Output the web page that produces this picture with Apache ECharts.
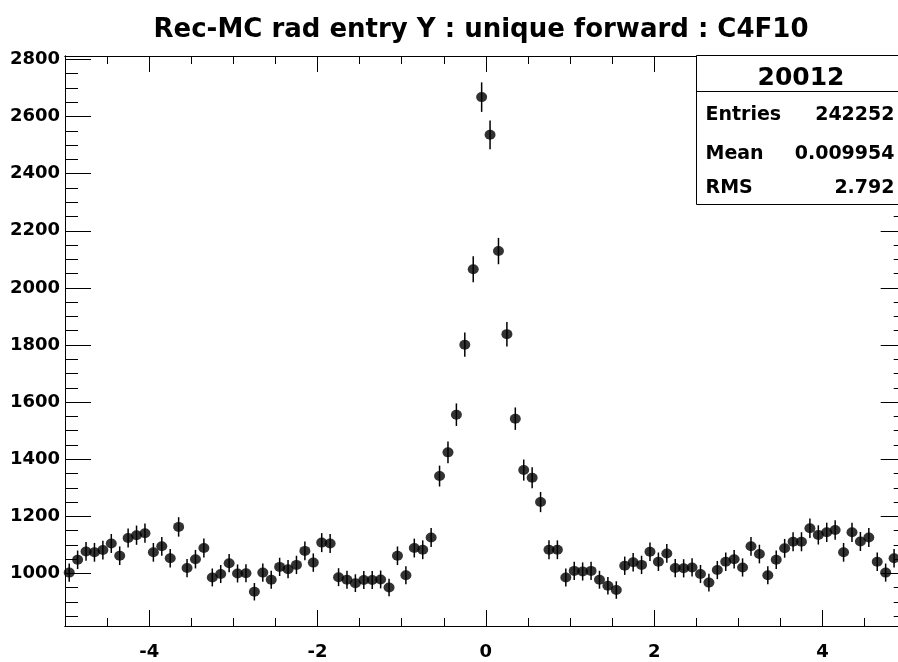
<!DOCTYPE html>
<html>
<head>
<meta charset="utf-8">
<script src="https://cdn.jsdelivr.net/npm/echarts@6/dist/echarts.min.js"></script>
<style>
html,body{margin:0;padding:0;background:#fff;}
#chart{width:898px;height:662px;}
</style>
</head>
<body>
<div id="chart"></div>
<script>
// ---- data ----
const titleText = 'Rec-MC rad entry Y : unique forward : C4F10';
const binCenters = [
  -4.95,-4.85,-4.75,-4.65,-4.55,-4.45,-4.35,-4.25,-4.15,-4.05,
  -3.95,-3.85,-3.75,-3.65,-3.55,-3.45,-3.35,-3.25,-3.15,-3.05,
  -2.95,-2.85,-2.75,-2.65,-2.55,-2.45,-2.35,-2.25,-2.15,-2.05,
  -1.95,-1.85,-1.75,-1.65,-1.55,-1.45,-1.35,-1.25,-1.15,-1.05,
  -0.95,-0.85,-0.75,-0.65,-0.55,-0.45,-0.35,-0.25,-0.15,-0.05,
  0.05,0.15,0.25,0.35,0.45,0.55,0.65,0.75,0.85,0.95,
  1.05,1.15,1.25,1.35,1.45,1.55,1.65,1.75,1.85,1.95,
  2.05,2.15,2.25,2.35,2.45,2.55,2.65,2.75,2.85,2.95,
  3.05,3.15,3.25,3.35,3.45,3.55,3.65,3.75,3.85,3.95,
  4.05,4.15,4.25,4.35,4.45,4.55,4.65,4.75,4.85
];
const counts = [
  1003,1048,1077,1074,1082,1105,1062,1124,1134,1141,
  1074,1095,1053,1163,1019,1050,1089,986,998,1036,
  1000,1001,936,1003,978,1023,1015,1030,1079,1038,
  1108,1105,987,978,966,977,977,979,951,1062,
  994,1089,1083,1126,1341,1424,1556,1801,2065,2668,
  2536,2129,1838,1542,1362,1335,1250,1083,1083,986,
  1009,1007,1009,978,957,942,1027,1039,1030,1076,
  1041,1070,1019,1018,1021,998,968,1012,1041,1050,
  1021,1095,1068,994,1048,1088,1111,1111,1158,1135,
  1144,1152,1074,1144,1112,1126,1041,1003,1053
];
const xRange = [-5, 5];
const yRange = [816, 2812];
const statsTitle = '20012';
const statsNames = ['Entries', 'Mean', 'RMS'];
const statsValues = ['242252', '0.009954', '2.792'];

// ---- chart ----
const FONT = 'DejaVu Sans';
const black = {color: '#000', width: 1};

function mkAxis(position, range, tickLen, extra) {
  return Object.assign({
    type: 'value', position: position, min: range[0], max: range[1],
    axisLine: {show: true, onZero: false, lineStyle: black},
    axisTick: {show: true, inside: true, length: tickLen, lineStyle: black},
    axisLabel: {show: false},
    splitLine: {show: false},
    minorTick: {show: false}
  }, extra || {});
}

const labelStyle = {fontFamily: FONT, fontWeight: 'bold', fontSize: 18, color: '#000',
  formatter: function (v) { return String(v); }};

const xAxes = [
  mkAxis('bottom', xRange, 16, {splitNumber: 5,
    axisLabel: Object.assign({show: true, margin: 17, showMinLabel: false, showMaxLabel: false}, labelStyle)}),
  mkAxis('bottom', xRange, 8, {interval: 0.5}),
  mkAxis('top', xRange, 16, {splitNumber: 5}),
  mkAxis('top', xRange, 8, {interval: 0.5})
];
const yAxes = [
  mkAxis('left', yRange, 26, {splitNumber: 10,
    axisLabel: Object.assign({show: true, margin: 5, showMinLabel: false, showMaxLabel: false}, labelStyle)}),
  mkAxis('left', yRange, 13, {splitNumber: 40}),
  mkAxis('right', yRange, 26, {splitNumber: 10}),
  mkAxis('right', yRange, 13, {splitNumber: 40})
];

const points = binCenters.map((x, i) => [x, counts[i], Math.sqrt(counts[i])]);

const statsX0 = 696.5, statsY0 = 55.5, statsX1 = 906, statsY1 = 204.5;
const graphics = [
  {type: 'rect', z: 100, shape: {x: statsX0, y: statsY0, width: statsX1 - statsX0, height: statsY1 - statsY0},
   style: {fill: '#fff', stroke: '#000', lineWidth: 1}},
  {type: 'line', z: 101, shape: {x1: statsX0, y1: 91.5, x2: statsX1, y2: 91.5},
   style: {stroke: '#000', lineWidth: 1}},
  {type: 'text', z: 101, x: 801, y: 78.5,
   style: {text: statsTitle, font: 'bold 25px "DejaVu Sans"', fill: '#000', align: 'center', verticalAlign: 'middle', textAlign: 'center', textVerticalAlign: 'middle'}}
];
const rowY = [115.3, 154.3, 188.3];
statsNames.forEach((n, i) => {
  graphics.push({type: 'text', z: 101, x: 705.5, y: rowY[i],
    style: {text: n, font: 'bold 19px "DejaVu Sans"', fill: '#000', align: 'left', verticalAlign: 'middle', textAlign: 'left', textVerticalAlign: 'middle'}});
  graphics.push({type: 'text', z: 101, x: 894.5, y: rowY[i],
    style: {text: statsValues[i], font: 'bold 19px "DejaVu Sans"', fill: '#000', align: 'right', verticalAlign: 'middle', textAlign: 'right', textVerticalAlign: 'middle'}});
});

const chart = echarts.init(document.getElementById('chart'), null, {renderer: 'canvas'});
chart.setOption({
  backgroundColor: '#fff',
  animation: false,
  title: {
    text: titleText, left: 476, top: 25, textAlign: 'center', textVerticalAlign: 'middle',
    textStyle: {fontFamily: FONT, fontWeight: 'bold', fontSize: 26, color: '#000'}
  },
  grid: {left: 65, top: 56, right: -8.7, bottom: 36, outerBoundsMode: 'none', containLabel: false},
  xAxis: xAxes,
  yAxis: yAxes,
  series: [
    {
      type: 'custom', xAxisIndex: 0, yAxisIndex: 0, z: 2,
      data: points,
      renderItem: function (params, api) {
        const x = api.value(0), y = api.value(1), e = api.value(2);
        const p1 = api.coord([x, y + e]);
        const p2 = api.coord([x, y - e]);
        return {type: 'line', shape: {x1: p1[0], y1: p1[1], x2: p2[0], y2: p2[1]},
          style: {stroke: '#000', lineWidth: 1.5}};
      }
    },
    {
      type: 'scatter', xAxisIndex: 0, yAxisIndex: 0, z: 3,
      data: points.map(p => [p[0], p[1]]),
      symbol: 'circle', symbolSize: [11, 10],
      itemStyle: {color: '#000'}
    }
  ],
  graphic: graphics
});
</script>
</body>
</html>
